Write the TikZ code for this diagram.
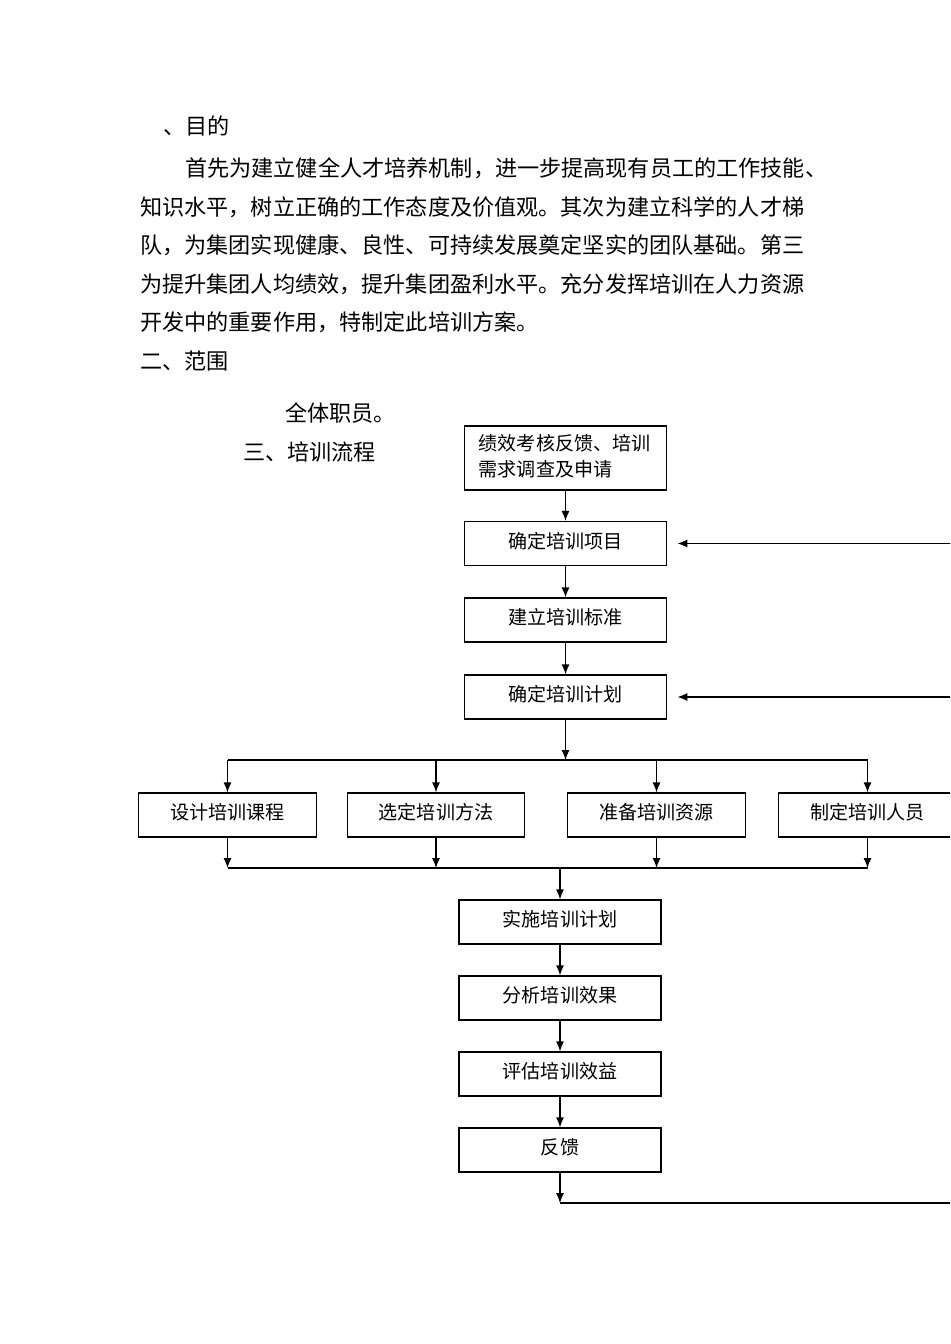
\documentclass[tikz,border=0pt]{standalone}
\usepackage{fontspec}
\newfontfamily\cjk{Noto Sans CJK SC}
\usepackage{tikz}
\usetikzlibrary{positioning}
\usetikzlibrary{arrows,arrows.meta,shapes}
\usetikzlibrary{calc}
\tikzstyle{boxline}=[rectangle,draw=black,line width=0.9pt,minimum width=152pt,minimum height=33pt,inner sep=0pt,font=\cjk\fontsize{14.3}{19.5}\selectfont]
\tikzstyle{stepbox}=[boxline,text depth=5pt]
\tikzstyle{rowbox}=[stepbox,minimum width=133pt]
\tikzstyle{edge} = [draw,line width=0.9pt,-{Latex[length=7.5pt,width=6pt]}]
\tikzstyle{bodytext} = [anchor=west,inner sep=0pt,font=\cjk\fontsize{16.6}{20}\selectfont]

\begin{document}
\begin{tikzpicture}[x=0.75pt,y=-0.75pt]

  \useasboundingbox (0,0) rectangle (950,1344);
  \clip (0,0) rectangle (950,1344);

  % text above the chart
  \foreach \y/\x/\name/\label in {126/163/h1/、目的,
      168/185/p1/首先为建立健全人才培养机制，进一步提高现有员工的工作技能、,
      207/140/p2/知识水平，树立正确的工作态度及价值观。其次为建立科学的人才梯,
      245/140/p3/队，为集团实现健康、良性、可持续发展奠定坚实的团队基础。第三,
      284/140/p4/为提升集团人均绩效，提升集团盈利水平。充分发挥培训在人力资源,
      322/140/p5/开发中的重要作用，特制定此培训方案。,
      361/140/h2/二、范围, 413/285/p6/全体职员。, 452/243/h3/三、培训流程}
     \node[bodytext] (\name) at (\x, \y) {\label};

  % main column
  \node[boxline, minimum height=48pt, align=left, text width=130pt] (need) at (565.5, 458)
       {绩效考核反馈、培训\\需求调查及申请\vphantom{g}};
  \foreach \y/\name/\label in {543.5/proj/确定培训项目, 620/std/建立培训标准, 697/plan/确定培训计划}
     \node[stepbox] (\name) at (565.5, \y) {\label};

  % four parallel tasks
  \foreach \x/\name/\label in {227.5/d1/设计培训课程, 436/d2/选定培训方法, 656.5/d3/准备培训资源, 867.5/d4/制定培训人员}
     \node[rowbox] (\name) at (\x, 815) {\label};

  \foreach \y/\name/\label in {922/impl/实施培训计划, 998/anal/分析培训效果, 1074/eval/评估培训效益, 1150/back/反馈}
     \node[stepbox, minimum width=151.5pt] (\name) at (560, \y) {\label};

  \coordinate (split) at (565.5, 760);
  \coordinate (merge) at (560, 868);
  \coordinate (loop) at (560, 1203);
  \coordinate (rt) at (965, 1203);

  \foreach \source/ \dest in {need/proj, proj/std, std/plan, impl/anal, anal/eval, eval/back}
     \draw[edge] (\source) -- (\dest);

  \draw[edge] (plan.south) -- (split);
  \draw[line width=0.9pt] (d1.north |- split) -- (d4.north |- split);
  \foreach \name in {d1,d2,d3,d4} {
     \draw[edge] (\name.north |- split) -- (\name.north);
     \draw[edge] (\name.south) -- (\name.south |- merge);
  }
  \draw[line width=0.9pt] (d1.south |- merge) -- (d4.south |- merge);
  \draw[edge] (merge) -- (impl.north);

  % feedback loop back to the top
  \draw[edge] (back.south) -- (loop);
  \draw[line width=0.9pt] (loop) -- (rt) -- (rt |- proj.east);
  \draw[edge, shorten >=7.5pt] (rt |- proj.east) -- (proj.east);
  \draw[edge, shorten >=7.5pt] (rt |- plan.east) -- (plan.east);

\end{tikzpicture}
\end{document}
